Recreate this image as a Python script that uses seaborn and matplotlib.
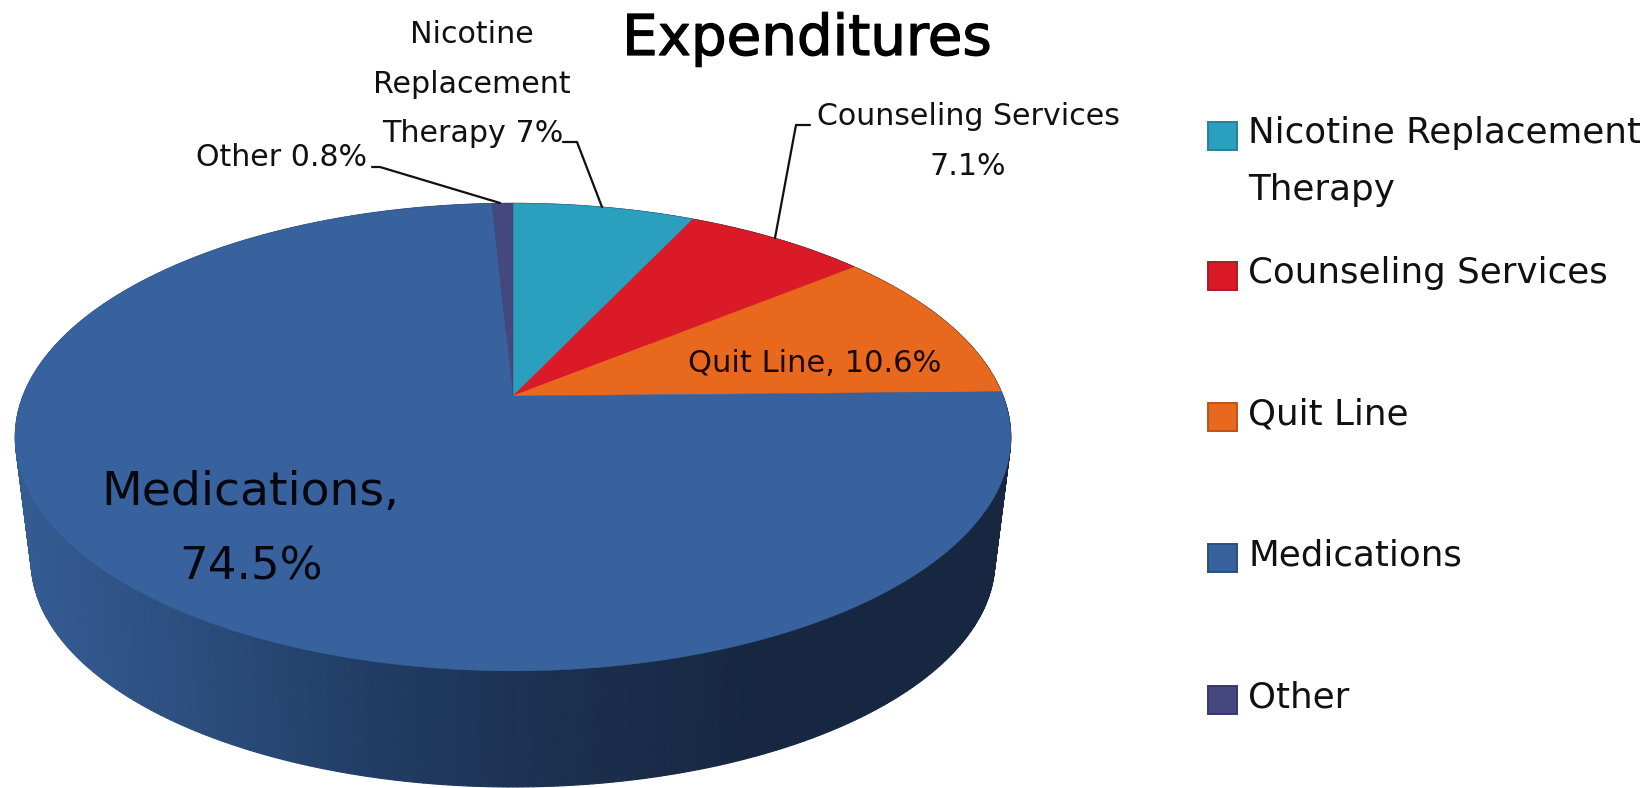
import numpy as np
import matplotlib
matplotlib.use("Agg")
import matplotlib.pyplot as plt
import matplotlib.patheffects as pe
import matplotlib.transforms as mtransforms
from matplotlib.collections import PolyCollection
from matplotlib.patches import Rectangle
import seaborn as sns

# Values, clockwise from 12 o'clock
categories = ["Nicotine Replacement\nTherapy", "Counseling Services", "Quit Line", "Medications", "Other"]
values = [7.0, 7.1, 10.6, 74.5, 0.8]
slice_colors = ["#2a9fbe", "#da1b27", "#e8681d", "#37629e", "#45477f"]
edge_colors = ["#26809a", "#a81c26", "#b9541c", "#2c4f80", "#36386a"]
wall_colors = ["#345c93", "#2b4c7c", "#203b62", "#1b2f4e", "#172742", "#172742"]


class Perspective(mtransforms.Transform):
    # unit circle to the tilted disc, in picture pixels
    input_dims = 2
    output_dims = 2
    is_separable = False
    has_inverse = False

    def __init__(self, cx=513.0, cy=396.0, a=490.0, b=226.5, k=0.1757, scale=1.0, drop=0.0):
        super().__init__()
        self.cx, self.cy, self.a, self.b, self.k = cx, cy, a, b, k
        self.scale, self.drop = scale, drop

    def transform_non_affine(self, values):
        values = np.asarray(values, dtype=float)
        u, v = values[:, 0], values[:, 1]
        d = 1 + self.k * v
        x = self.cx + self.scale * self.a * u / d
        y = self.cy + self.drop - self.scale * self.b * v / d
        return np.column_stack([x, y])


sns.set_theme(style="white")
plt.rcParams["font.family"] = ["DejaVu Sans"]

fig = plt.figure(figsize=(16.52, 7.88), dpi=100)
ax = fig.add_axes([0, 0, 1, 1])

wedges, _ = ax.pie(values, colors=sns.color_palette(slice_colors), startangle=90, counterclock=False, radius=1.0)
ax.set_aspect("auto")
ax.set_xlim(0, 1652)
ax.set_ylim(788, 0)
ax.axis("off")

top = Perspective()
for wedge, fill in zip(wedges, slice_colors):
    wedge.set_transform(top + ax.transData)
    wedge.set_edgecolor(fill)
    wedge.set_linewidth(0.4)
    wedge.set_clip_on(False)
    wedge.set_zorder(3)

# side wall of the disc, shaded left to right
bottom = Perspective(scale=0.968, drop=125.0)
t = np.linspace(0, 2 * np.pi, 721)
circle = np.column_stack([np.cos(t), np.sin(t)])
rim_top = top.transform(circle)
rim_bottom = bottom.transform(circle)
wall_cmap = sns.blend_palette(wall_colors, as_cmap=True)
quads = [[rim_top[i], rim_top[i + 1], rim_bottom[i + 1], rim_bottom[i]] for i in range(len(t) - 1)]
shades = [wall_cmap((rim_bottom[i, 0] - 30) / 900) for i in range(len(t) - 1)]
ax.add_collection(PolyCollection(quads, facecolors=shades, edgecolors=shades, linewidths=0.8, zorder=2))

# title and data labels
title = ax.text(807, 55, "Expenditures", fontsize=40.5, ha="center", va="baseline", color="black")
title.set_path_effects([pe.withStroke(linewidth=0.9, foreground="black")])
ax.text(250, 505, "Medications,", fontsize=34, ha="center", va="baseline", color="#05070f")
ax.text(251, 580, "74.5%", fontsize=32.5, ha="center", va="baseline", color="#05070f")
ax.text(815, 372, "Quit Line, 10.6%", fontsize=22, ha="center", va="baseline", color="#1a0a02")
ax.text(968, 125, "Counseling Services", fontsize=21.6, ha="center", va="baseline", color="#111111")
ax.text(968, 175, "7.1%", fontsize=21.6, ha="center", va="baseline", color="#111111")
ax.text(472, 43, "Nicotine", fontsize=21.7, ha="center", va="baseline", color="#111111")
ax.text(472, 93, "Replacement", fontsize=21.7, ha="center", va="baseline", color="#111111")
ax.text(473, 142, "Therapy 7%", fontsize=21.7, ha="center", va="baseline", color="#111111")
ax.text(282, 166, "Other 0.8%", fontsize=21.6, ha="center", va="baseline", color="#111111")

# leader lines
ax.plot([372, 380, 500], [167, 167, 203], color="#111111", lw=1.6, zorder=4)
ax.plot([563, 577, 602], [142, 142, 207], color="#111111", lw=1.6, zorder=4)
ax.plot([810, 796, 775], [125, 125, 238], color="#111111", lw=1.6, zorder=4)

# legend
legend_y = [136, 276, 417, 558, 700]
for name, fill, edge, y in zip(categories, slice_colors, edge_colors, legend_y):
    ax.add_patch(Rectangle((1208, y - 14), 29, 28, facecolor=fill, edgecolor=edge, lw=1.4))
    lines = name.split("\n")
    for n, line in enumerate(lines):
        ax.text(1248, y + 7 + n * 57, line, fontsize=25.7, ha="left", va="baseline", color="#111111")

fig.savefig("out.png", dpi=100, facecolor="white")
